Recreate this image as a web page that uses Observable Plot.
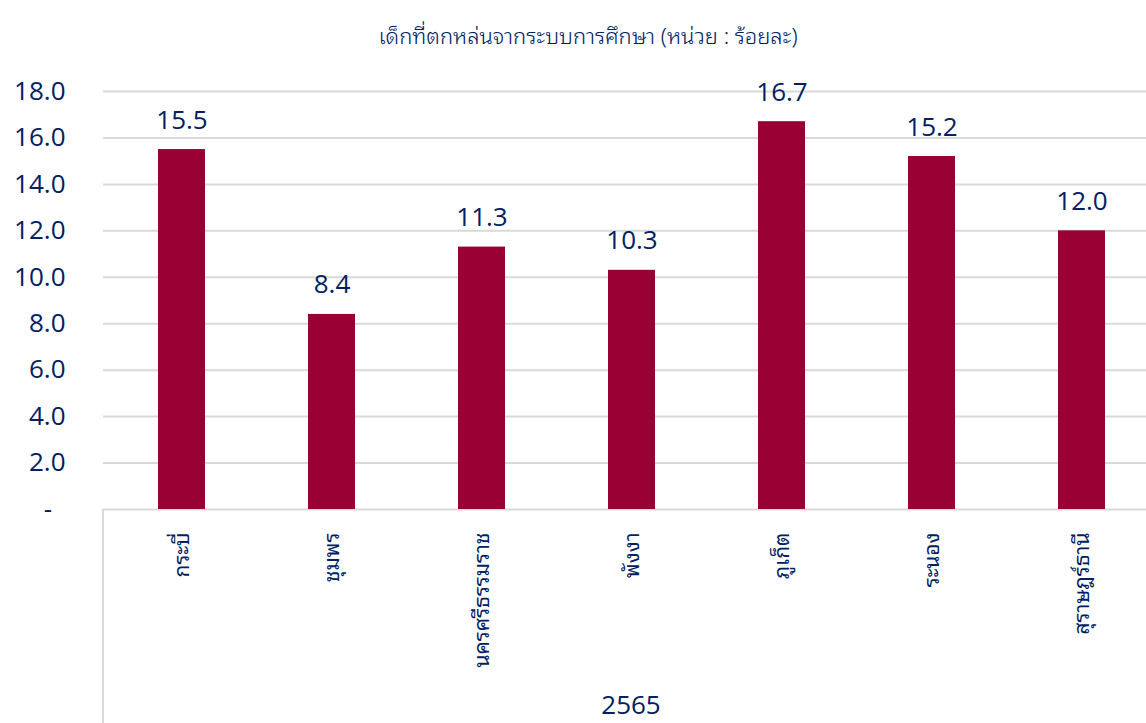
<!DOCTYPE html>
<html><head><meta charset="utf-8">
<script src="https://cdn.jsdelivr.net/npm/d3@7"></script>
<script src="https://cdn.jsdelivr.net/npm/@observablehq/plot@0.6"></script>
<style>
body{margin:0;background:#fff;overflow:hidden;}
#wrap{position:relative;width:1146px;height:723px;overflow:hidden;}
#title{position:absolute;top:16px;left:0;width:1176px;text-align:center;font-family:"Noto Sans Thai Looped","Noto Sans Thai","Noto Sans",sans-serif;font-size:22px;font-weight:300;color:#002060;}
#group{position:absolute;top:686px;left:531px;width:200px;text-align:center;font-family:"Open Sans",sans-serif;font-size:26px;color:#002060;}
#vline{position:absolute;left:102px;top:509px;width:2px;height:214px;background:#d9d9d9;}
</style></head>
<body><div id="wrap"><div id="title">เด็กที่ตกหล่นจากระบบการศึกษา (หน่วย : ร้อยละ)</div><div id="chart"></div><div id="vline"></div><div id="group">2565</div></div>
<script>
const provinces = ["กระบี่","ชุมพร","นครศรีธรรมราช","พังงา","ภูเก็ต","ระนอง","สุราษฎร์ธานี"];
const values = [15.5, 8.4, 11.3, 10.3, 16.7, 15.2, 12.0];
const yTicks = [0,2,4,6,8,10,12,14,16,18];
const data = provinces.map((p,i)=>({province:p, value:values[i]}));
const chart = Plot.plot({
  width:1146, height:723,
  marginTop:91, marginBottom:214, marginLeft:103, marginRight:0,
  style:{fontFamily:"'Open Sans',sans-serif", color:"#002060", background:"#fff"},
  x:{domain:provinces, range:[103.5,1160], paddingInner:0.69, paddingOuter:0.345, label:null},
  y:{domain:[0,18], label:null},
  marks:[
    Plot.gridY(yTicks,{stroke:"#d9d9d9", strokeOpacity:1, strokeWidth:2}),
    Plot.barY(data,{x:"province", y:"value", fill:"#990033"}),
    Plot.text(data,{x:"province", y:"value", text:d=>d.value.toFixed(1), dy:-21, lineAnchor:"bottom", fontSize:26, fill:"#002060"}),
    Plot.axisY(yTicks,{tickSize:0, tickPadding:38, fontSize:26, fill:"#002060",
      tickFormat:d=> d===0 ? "-\u00a0\u00a0" : d.toFixed(1)}),
    Plot.axisX({tickSize:0, tickRotate:-90, tickPadding:23, fontSize:21, fill:"#002060",
      fontFamily:"'Noto Sans Thai Looped','Noto Sans Thai','Noto Sans',sans-serif", label:null})
  ]
});
document.getElementById("chart").appendChild(chart);
</script></body></html>
